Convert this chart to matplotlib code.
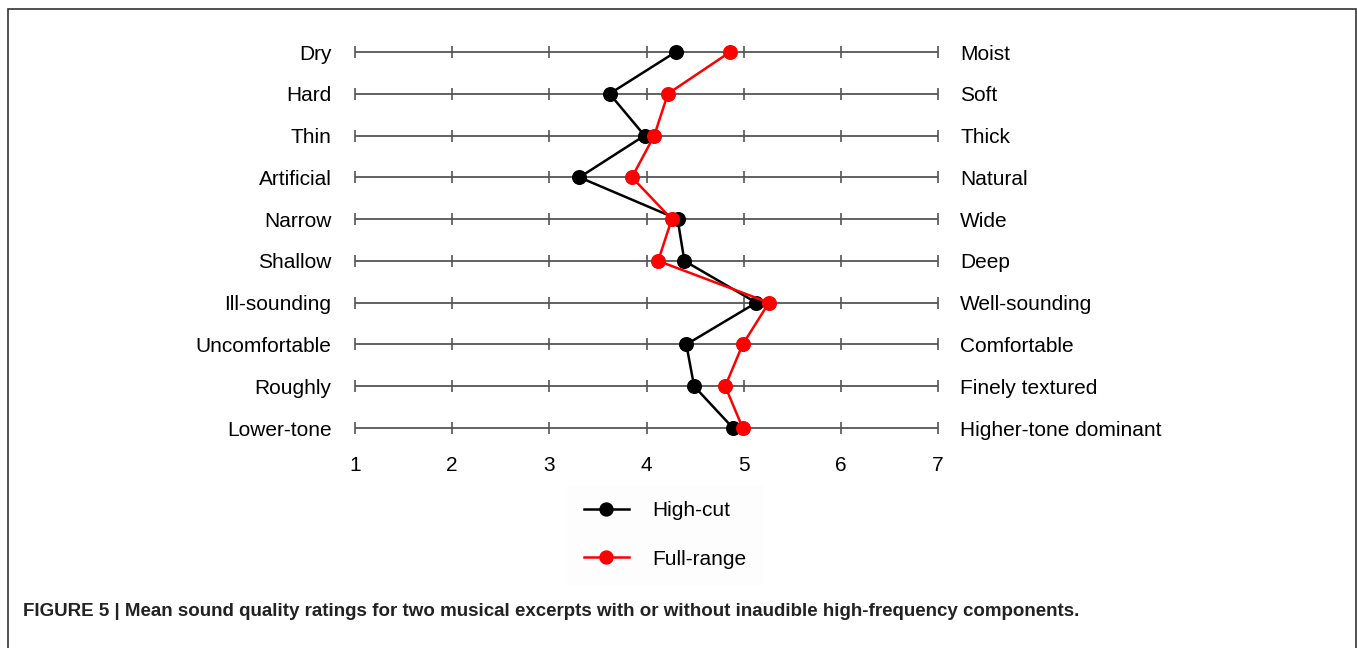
import matplotlib
matplotlib.use("Agg")
import matplotlib.pyplot as plt
from matplotlib.patches import Rectangle
import numpy as np

plt.rcParams['font.family'] = ['Liberation Sans', 'DejaVu Sans']

# Data
left_labels = ['Dry', 'Hard', 'Thin', 'Artificial', 'Narrow', 'Shallow',
               'Ill-sounding', 'Uncomfortable', 'Roughly', 'Lower-tone']
right_labels = ['Moist', 'Soft', 'Thick', 'Natural', 'Wide', 'Deep',
                'Well-sounding', 'Comfortable', 'Finely textured',
                'Higher-tone dominant']
high_cut = [4.30, 3.62, 3.98, 3.31, 4.32, 4.39, 5.13, 4.41, 4.49, 4.89]
full_range = [4.86, 4.22, 4.08, 3.85, 4.26, 4.12, 5.26, 4.99, 4.81, 4.99]
scale_ticks = [1, 2, 3, 4, 5, 6, 7]
caption = ("FIGURE 5 | Mean sound quality ratings for two musical excerpts "
           "with or without inaudible high-frequency components.")

W, H = 1357, 648
fig = plt.figure(figsize=(W / 100, H / 100), dpi=100)

# axes: x=1 at px 355, x=7 at px 938; rows from px 52 to 428
ax = fig.add_axes([355 / W, 1 - 428 / H, (938 - 355) / W, (428 - 52) / H])
rows = np.arange(len(left_labels))
ax.set_xlim(1, 7)
ax.set_ylim(len(rows) - 1, 0)

for y in rows:
    ax.hlines(y, 1, 7, color='#555555', lw=1.3, clip_on=False, zorder=1)
    ax.plot(scale_ticks, [y] * len(scale_ticks), ls='none', marker='|',
            ms=9, mew=1.2, color='#555555', clip_on=False, zorder=1)

l1, = ax.plot(high_cut, rows, color='black', lw=1.8, marker='o', ms=9.8,
              clip_on=False, zorder=3, label='High-cut')
l2, = ax.plot(full_range, rows, color='#ff0000', lw=1.8, marker='o', ms=9.8,
              clip_on=False, zorder=4, label='Full-range')

for s in ax.spines.values():
    s.set_visible(False)

fs = 15
ax.set_xticks(scale_ticks)
ax.set_xticklabels([str(t) for t in scale_ticks])
ax.tick_params(axis='x', length=0, pad=20, labelsize=fs)

ax.set_yticks(rows)
ax.set_yticklabels(left_labels)
ax.tick_params(axis='y', length=0, pad=17, labelsize=fs)

ax2 = ax.twinx()
ax2.set_ylim(len(rows) - 1, 0)
ax2.set_yticks(rows)
ax2.set_yticklabels(right_labels)
ax2.tick_params(axis='y', length=0, pad=16, labelsize=fs)
for s in ax2.spines.values():
    s.set_visible(False)

leg = fig.legend(handles=[l1, l2], loc='center',
                 bbox_to_anchor=(665 / W, 1 - 535 / H),
                 fontsize=fs, frameon=True, facecolor='#fdfdfd',
                 edgecolor='none', fancybox=False, handlelength=2.2,
                 handletextpad=1.1, labelspacing=1.4, borderpad=0.8,
                 markerscale=0.95)

fig.text(23 / W, 1 - 611 / H, caption, fontsize=13.5, fontweight='bold',
         ha='left', va='center', color='#222222')

fig.patches.append(Rectangle((8 / W, -0.05), 1348 / W, 1 - 9 / H + 0.05,
                             transform=fig.transFigure, fill=False,
                             edgecolor='#333333', lw=1.2))

fig.savefig('out.png', dpi=100)
